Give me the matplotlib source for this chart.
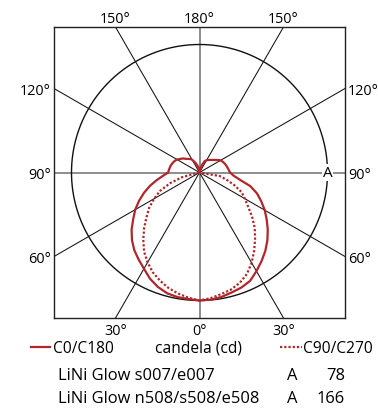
import numpy as np
import matplotlib
matplotlib.use("Agg")
import matplotlib.pyplot as plt
from matplotlib.lines import Line2D

plt.rcParams["font.family"] = ["Open Sans", "DejaVu Sans"]

# Luminous intensity (cd) of LiNi Glow s007/e007, gamma angle from nadir
gamma_full = list(range(0, 181, 5))
gamma_lower = list(range(0, 91, 5))

c0 = [78.0, 77.8, 77.0, 75.7, 74.6, 72.9, 69.4, 65.9, 62.4, 58.5, 54.3, 50.0,
      45.9, 41.5, 37.3, 32.0, 24.8, 20.7, 18.6, 17.9, 17.3, 16.8, 16.2, 15.6,
      14.8, 13.3, 11.9, 10.8, 10.0, 9.3, 8.6, 7.8, 5.5, 3.5, 2.3, 1.2, 0.0]
c180 = [78.0, 77.4, 77.1, 76.2, 74.2, 71.4, 67.7, 64.7, 61.8, 58.2, 54.0, 49.3,
        45.2, 40.6, 35.9, 31.2, 26.4, 22.2, 19.1, 18.7, 18.3, 17.9, 17.3, 16.7,
        15.8, 14.4, 13.3, 11.8, 10.8, 10.1, 9.0, 7.0, 5.5, 3.9, 2.3, 1.2, 0.0]
c90 = [78.0, 76.9, 75.3, 73.9, 71.6, 68.3, 63.6, 58.1, 52.7, 47.6, 41.8, 36.1,
       32.0, 28.3, 22.6, 17.2, 12.5, 0.0, 0.0]
c270 = [78.0, 76.6, 74.9, 72.9, 70.2, 67.2, 63.3, 58.9, 53.3, 47.7, 42.1, 37.4,
        32.0, 26.5, 19.1, 10.9, 0.0, 0.0, 0.0]

ref_value = 78  # value of reference circle "A"
products = ["LiNi Glow s007/e007", "LiNi Glow n508/s508/e508"]
product_a = [78, 166]
label_angles = list(range(0, 360, 30))

RED = "#b2252a"
lim = ref_value * 145.5 / 128.0

fig = plt.figure(figsize=(3.78, 4.10), dpi=100)
W, H = 378.0, 410.0
ax = fig.add_axes([54 / W, 1 - 319 / H, 291 / W, 291 / H])
ax.set_xlim(-lim, lim)
ax.set_ylim(-lim, lim)
ax.set_xticks([])
ax.set_yticks([])
for s in ax.spines.values():
    s.set_linewidth(1.0)
    s.set_color("#222222")


def to_xy(angles, values, side):
    a = np.radians(np.asarray(angles, dtype=float))
    r = np.asarray(values, dtype=float)
    return side * r * np.sin(a), -r * np.cos(a)


# radial grid lines
for ang in label_angles:
    t = np.radians(ang)
    L = 3 * lim
    if ang % 90 == 0:
        ax.plot([0, L * np.sin(t)], [0, -L * np.cos(t)], color="#6f6f6f",
                lw=1.1, zorder=1)
    else:
        ax.plot([0, L * np.sin(t)], [0, -L * np.cos(t)], color="#111111",
                lw=0.75, zorder=1)

# reference circle
th = np.linspace(0, 2 * np.pi, 361)
ax.plot(ref_value * np.cos(th), ref_value * np.sin(th), color="#111111",
        lw=1.0, zorder=2)
ax.text(ref_value, 0, "A", ha="center", va="center", fontsize=11,
        bbox=dict(facecolor="white", edgecolor="none", pad=0.5), zorder=3)

# C0/C180 curve
xl, yl = to_xy(gamma_full[::-1], c180[::-1], -1)
xr, yr = to_xy(gamma_full, c0, 1)
ax.plot(np.concatenate([xl, xr]), np.concatenate([yl, yr]), color=RED,
        lw=1.6, zorder=4, solid_joinstyle="round")

# C90/C270 curve
xl, yl = to_xy(gamma_lower[::-1], c270[::-1], -1)
xr, yr = to_xy(gamma_lower, c90, 1)
ax.plot(np.concatenate([xl, xr]), np.concatenate([yl, yr]), color=RED,
        lw=1.6, dashes=(1, 0.9), zorder=4)

# angle labels at the frame
for ang in label_angles:
    t = np.radians(ang)
    sx, sy = np.sin(t), -np.cos(t)
    k = lim / max(abs(sx), abs(sy))
    px, py = k * sx, k * sy
    g = ang if ang <= 180 else 360 - ang
    txt = f"{g}°"
    if abs(sy) > abs(sx) + 1e-9:
        if sy > 0:
            off, ha, va = (0, 3.4), "center", "baseline"
        else:
            off, ha, va = (0, -11.8), "center", "baseline"
    else:
        if sx > 0:
            off, ha, va = (2.2, -3.8), "left", "baseline"
        else:
            off, ha, va = (-2.2, -3.8), "right", "baseline"
    ax.annotate(txt, (px, py), xytext=off, textcoords="offset points",
                ha=ha, va=va, fontsize=10.4, annotation_clip=False)

# legend rows
fig.add_artist(Line2D([31 / W, 50 / W], [1 - 348 / H] * 2, color=RED, lw=1.6,
                      transform=fig.transFigure))
fig.text(53 / W, 1 - 353 / H, "C0/C180", fontsize=11.2, ha="left",
         va="baseline")
fig.text(198.5 / W, 1 - 353 / H, "candela (cd)", fontsize=11.2, ha="center",
         va="baseline")
fig.add_artist(Line2D([280 / W, 302 / W], [1 - 348 / H] * 2, color=RED, lw=1.6,
                      dashes=(1, 0.9), transform=fig.transFigure))
fig.text(303 / W, 1 - 353 / H, "C90/C270", fontsize=11.2, ha="left",
         va="baseline")

for i, (name, a) in enumerate(zip(products, product_a)):
    yb = 1 - (380 + 23 * i) / H
    fig.text(58 / W, yb, name, fontsize=11.9, ha="left", va="baseline")
    fig.text(292 / W, yb, "A", fontsize=11.9, ha="center", va="baseline")
    fig.text(345 / W, yb, str(a), fontsize=11.9, ha="right", va="baseline")

fig.savefig("out.png", dpi=100)
